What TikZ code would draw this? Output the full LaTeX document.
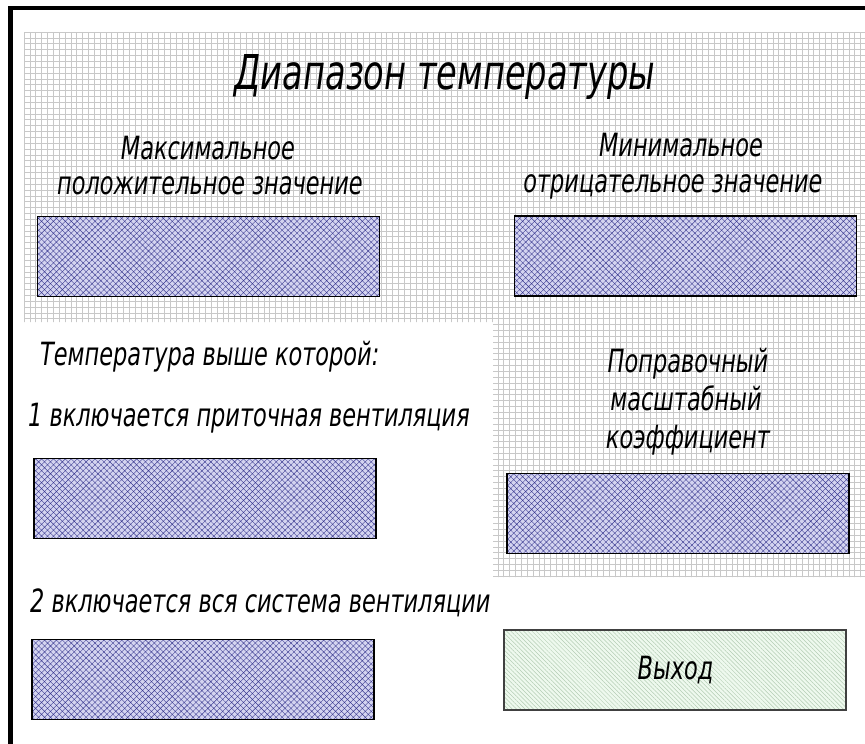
\documentclass[tikz,border=0pt]{standalone}
\usepackage{fontspec}
\usetikzlibrary{patterns.meta}
\newfontfamily\gost{DejaVu Sans Condensed}
% narrow slanted lettering at a given size
\newcommand\gtxt[2]{\scalebox{0.78}[1]{\gost\itshape\fontsize{#1}{#1}\selectfont #2}}

\definecolor{gridink}{RGB}{200,200,200}
\definecolor{cellfill}{RGB}{212,212,240}
\definecolor{hatchink}{RGB}{60,60,145}
\definecolor{outfill}{RGB}{238,249,238}
\definecolor{outhatch}{RGB}{180,205,180}

\tikzset{
  gridline/.style={draw=gridink, line width=0.6pt},
  cellbox/.style={draw=black, line width=1.1pt, inner sep=0pt,
    minimum width=342pt, minimum height=80pt,
    preaction={fill=cellfill},
    pattern={Hatch[angle=45,distance=4.2pt,line width=0.4pt]},
    pattern color=hatchink},
  outbox/.style={draw=black!75, line width=1.4pt, inner sep=0pt,
    minimum width=342pt, minimum height=80pt,
    preaction={fill=outfill},
    pattern={Lines[angle=-45,distance=3pt,line width=0.5pt]},
    pattern color=outhatch},
  label/.style={inner sep=0pt, anchor=base},
  leftlabel/.style={inner sep=0pt, anchor=base west}
}

\begin{document}
\begin{tikzpicture}[x=1pt, y=-1pt]
\useasboundingbox (0,0) rectangle (865,744);
\fill[white] (0,0) rectangle (865,744);

% squared paper behind the upper panel and the right column
\begin{scope}
  \clip (24,32) -- (865,32) -- (865,577) -- (493,577) -- (493,322) -- (24,322) -- cycle;
  \begin{scope}[shift={(24,32)}]
    \draw[gridline] (0,550) grid[step=5.85pt] (846,0);
  \end{scope}
\end{scope}

% sheet frame
\draw[line width=4.6pt] (10.5,8) rectangle (900,780);

% title
\node[label] (title) at (445,89) {\gtxt{48}{Диапазон температуры}};

% range limits
\node[label] (maxh1) at (208,159) {\gtxt{32}{Максимальное}};
\node[label] (maxh2) at (210,194) {\gtxt{32}{положительное значение}};
\node[cellbox] (maxv) at (208.5,256.5) {};

\node[label] (minh1) at (681,156) {\gtxt{32}{Минимальное}};
\node[label] (minh2) at (673,192) {\gtxt{32}{отрицательное значение}};
\node[cellbox] (minv) at (685.5,256) {};

% ventilation thresholds
\node[leftlabel] (thr) at (40,365) {\gtxt{32}{Температура выше которой:}};
\node[leftlabel] (vent1h) at (28,426) {\gtxt{32}{1 включается приточная вентиляция}};
\node[cellbox] (vent1) at (205,498.5) {};

\node[leftlabel] (vent2h) at (30,612) {\gtxt{32}{2 включается вся система вентиляции}};
\node[cellbox] (vent2) at (203,679.5) {};

% scale correction
\node[label] (corh1) at (688,372) {\gtxt{32}{Поправочный}};
\node[label] (corh2) at (686,410) {\gtxt{32}{масштабный}};
\node[label] (corh3) at (688,448) {\gtxt{32}{коэффициент}};
\node[cellbox] (corv) at (678,513.5) {};

% output
\node[outbox] (outv) at (675,670) {};
\node[label] (outh) at (675.5,679) {\gtxt{32}{Выход}};
\end{tikzpicture}
\end{document}
